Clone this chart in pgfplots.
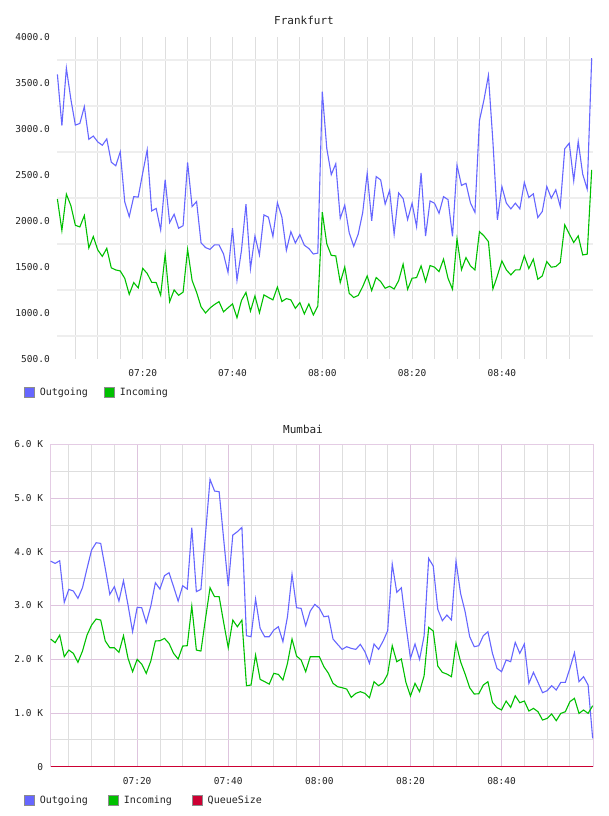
\documentclass[border=0pt]{standalone}
\usepackage{pgfplots}
\pgfplotsset{compat=1.18}
\usepackage{pgfplotstable}
\usepackage{fontspec}
\setmainfont{DejaVu Sans Mono}

\definecolor{outblue}{RGB}{102,102,255}
\definecolor{ingreen}{RGB}{0,192,0}
\definecolor{queuered}{RGB}{204,0,51}
\definecolor{lightgrid}{RGB}{238,238,238}
\definecolor{vgrid}{RGB}{222,222,222}
\definecolor{pgrid}{RGB}{222,196,222}
\definecolor{ggrid}{RGB}{222,222,222}
\definecolor{pborder}{RGB}{228,204,228}
\definecolor{txt}{RGB}{34,34,34}

% minutes after 07:00, outgoing, incoming
\pgfplotstableread{
t out in
1 3590 2237
2 3035 1896
3 3658 2290
4 3320 2166
5 3040 1952
6 3058 1934
7 3240 2058
8 2886 1706
9 2921 1830
10 2857 1684
11 2821 1614
12 2890 1702
13 2637 1490
14 2598 1467
15 2750 1456
16 2206 1376
17 2046 1202
18 2263 1330
19 2258 1272
20 2520 1484
21 2771 1429
22 2108 1333
23 2135 1330
24 1901 1192
25 2448 1636
26 1981 1122
27 2072 1250
28 1920 1192
29 1948 1226
30 2635 1690
31 2155 1353
32 2210 1224
33 1760 1066
34 1710 1000
35 1690 1054
36 1740 1092
37 1740 1123
38 1640 1012
39 1440 1056
40 1920 1098
41 1355 948
42 1680 1136
43 2182 1223
44 1480 1020
45 1835 1185
46 1630 1002
47 2065 1196
48 2040 1168
49 1830 1142
50 2197 1281
51 2042 1124
52 1680 1156
53 1882 1142
54 1760 1050
55 1850 1112
56 1735 990
57 1700 1098
58 1640 979
59 1650 1076
60 3402 2095
61 2785 1750
62 2502 1625
63 2620 1620
64 2028 1330
65 2170 1500
66 1869 1213
67 1724 1168
68 1856 1190
69 2090 1286
70 2517 1402
71 2000 1243
72 2481 1385
73 2445 1341
74 2182 1268
75 2330 1290
76 1856 1260
77 2303 1350
78 2242 1530
79 2014 1257
80 2191 1377
81 1937 1384
82 2520 1511
83 1835 1341
84 2216 1515
85 2191 1497
86 2082 1449
87 2263 1584
88 2231 1377
89 1833 1257
90 2605 1805
91 2385 1470
92 2408 1601
93 2195 1511
94 2092 1467
95 3088 1884
96 3313 1837
97 3580 1775
98 2860 1260
99 2011 1406
100 2372 1565
101 2192 1467
102 2130 1413
103 2192 1467
104 2130 1467
105 2417 1620
106 2254 1482
107 2294 1584
108 2036 1366
109 2102 1402
110 2373 1558
111 2246 1497
112 2337 1504
113 2156 1547
114 2783 1957
115 2844 1859
116 2435 1765
117 2862 1837
118 2507 1630
119 2344 1638
120 3768 2554
}\frankfurt

% minutes after 07:00, outgoing, incoming, queue size
\pgfplotstableread{
t out in q
1 3827 2376 0
2 3784 2308 0
3 3833 2450 0
4 3058 2047 0
5 3300 2171 0
6 3269 2109 0
7 3133 1942 0
8 3331 2152 0
9 3691 2450 0
10 4032 2636 0
11 4168 2748 0
12 4156 2729 0
13 3691 2339 0
14 3207 2214 0
15 3350 2214 0
16 3083 2128 0
17 3461 2438 0
18 3008 2016 0
19 2512 1768 0
20 2965 1997 0
21 2959 1911 0
22 2680 1737 0
23 2990 1966 0
24 3424 2339 0
25 3306 2345 0
26 3554 2388 0
27 3610 2295 0
28 3350 2109 0
29 3083 2004 0
30 3368 2245 0
31 3306 2252 0
32 4448 2990 0
33 3257 2171 0
34 3300 2152 0
35 4320 2750 0
36 5347 3331 0
37 5130 3164 0
38 5118 3164 0
39 4230 2680 0
40 3362 2214 0
41 4311 2729 0
42 4373 2605 0
43 4454 2729 0
44 2438 1507 0
45 2419 1520 0
46 3120 2078 0
47 2574 1625 0
48 2419 1582 0
49 2419 1538 0
50 2543 1737 0
51 2605 1718 0
52 2326 1613 0
53 2791 1923 0
54 3579 2376 0
55 2959 2059 0
56 2946 1985 0
57 2624 1768 0
58 2897 2047 0
59 3021 2047 0
60 2950 2047 0
61 2791 1861 0
62 2804 1737 0
63 2376 1551 0
64 2277 1489 0
65 2183 1470 0
66 2233 1445 0
67 2202 1290 0
68 2183 1365 0
69 2277 1396 0
70 2140 1365 0
71 1923 1284 0
72 2283 1582 0
73 2183 1507 0
74 2339 1563 0
75 2531 1724 0
76 3771 2252 0
77 3244 1954 0
78 3331 2004 0
79 2636 1569 0
80 2016 1315 0
81 2283 1551 0
82 1997 1396 0
83 2438 1693 0
84 3877 2593 0
85 3734 2525 0
86 2928 1873 0
87 2717 1756 0
88 2822 1724 0
89 2729 1675 0
90 3820 2300 0
91 3226 1954 0
92 2884 1724 0
93 2419 1470 0
94 2233 1352 0
95 2252 1358 0
96 2438 1520 0
97 2512 1582 0
98 2109 1197 0
99 1830 1098 0
100 1768 1055 0
101 1985 1222 0
102 1954 1104 0
103 2314 1321 0
104 2109 1191 0
105 2283 1222 0
106 1551 1036 0
107 1756 1086 0
108 1569 1023 0
109 1377 868 0
110 1414 899 0
111 1507 980 0
112 1427 856 0
113 1569 992 0
114 1569 1023 0
115 1830 1210 0
116 2121 1272 0
117 1582 992 0
118 1675 1055 0
119 1520 992 0
120 527 1135 0
}\mumbai

\pgfplotsset{
  netchart/.style={
    scale only axis,
    anchor=south west,
    clip=false,
    xtick={20,40,60,80,100},
    xticklabels={07:20,07:40,08:00,08:20,08:40},
    minor xtick={5,10,...,115},
    major tick length=0pt,
    minor tick length=0pt,
    tick label style={font=\fontsize{9.5}{10}\selectfont, text=txt, inner sep=0pt},
    xticklabel style={anchor=center, yshift=-14pt},
    yticklabel style={anchor=east, xshift=-7.4pt},
    legend columns=-1,
    legend style={draw=none, fill=none, inner sep=0pt, outer sep=0pt,
      font=\fontsize{10}{11}\selectfont, text=txt,
      nodes={inner sep=0pt, anchor=west},
      /tikz/every odd column/.append style={column sep=5pt}},
  },
  boxkey/.style={legend image code/.code={%
    \filldraw[draw=black!45, fill=#1, line width=0.8pt] (0pt,-5pt) rectangle (10pt,5pt);}},
}

\begin{document}
\begin{tikzpicture}[x=1pt,y=1pt]
\path[use as bounding box] (0,0) rectangle (608,816);

\node[font=\fontsize{11}{12}\selectfont, text=txt] at (304,795.5) {Frankfurt};
\begin{axis}[netchart,
  at={(57.4pt,457pt)}, width=535.9pt, height=322.3pt,
  xmin=1, xmax=120.36, ymin=500, ymax=4000,
  axis line style={draw=none},
  ytick={500,1000,...,4000},
  yticklabels={500.0,1000.0,1500.0,2000.0,2500.0,3000.0,3500.0,4000.0},
  minor ytick={750,1250,...,3750},
  xmajorgrids, xminorgrids, yminorgrids,
  x grid style={vgrid, line width=0.8pt},
  y grid style={lightgrid, line width=2pt},
  legend style={at={(-0.0623,-0.1024)}, anchor=west,
    /tikz/every even column/.append style={column sep=16pt}},
]
\addplot[outblue, line width=1.1pt, mark=none, boxkey=outblue] table[x=t, y=out] {\frankfurt};
\addlegendentry{Outgoing}
\addplot[ingreen, line width=1.1pt, mark=none, boxkey=ingreen] table[x=t, y=in] {\frankfurt};
\addlegendentry{Incoming}
\end{axis}

\node[font=\fontsize{11}{12}\selectfont, text=txt] at (303,387) {Mumbai};
\begin{axis}[netchart,
  at={(50.6pt,49.3pt)}, width=542.7pt, height=322.4pt,
  xmin=1, xmax=120.14, ymin=0, ymax=6000,
  axis line style={draw=pborder, line width=1.2pt},
  ytick={0,1000,...,6000},
  yticklabels={0,1.0 K,2.0 K,3.0 K,4.0 K,5.0 K,6.0 K},
  minor ytick={500,1500,...,5500},
  grid=both,
  major grid style={pgrid, line width=0.8pt},
  minor grid style={ggrid, line width=0.8pt},
  legend style={at={(-0.049,-0.1033)}, anchor=west,
    /tikz/every even column/.append style={column sep=20pt}},
]
\addplot[outblue, line width=1.1pt, mark=none, boxkey=outblue] table[x=t, y=out] {\mumbai};
\addlegendentry{Outgoing}
\addplot[ingreen, line width=1.1pt, mark=none, boxkey=ingreen] table[x=t, y=in] {\mumbai};
\addlegendentry{Incoming}
\addplot[queuered, line width=1.4pt, mark=none, boxkey=queuered] table[x=t, y=q] {\mumbai};
\addlegendentry{QueueSize}
\end{axis}
\end{tikzpicture}
\end{document}
